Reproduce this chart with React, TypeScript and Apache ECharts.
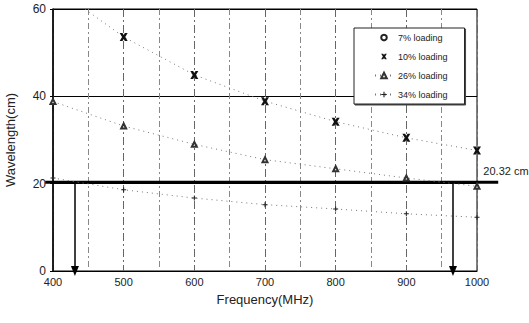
import React, { useEffect, useRef } from "react";
import * as echarts from "echarts";

const freqs = [400, 500, 600, 700, 800, 900, 1000];
const load7: (number | null)[] = [];
const load10 = [null, 53.6, 44.9, 38.9, 34.2, 30.5, 27.6];
const load10TrendStart = [445, 60];
const load26 = [38.8, 33.2, 29.0, 25.5, 23.4, 21.3, 19.4];
const load34 = [21.3, 18.6, 16.7, 15.2, 14.2, 13.1, 12.3];
const cutoffWavelength = 20.32;
const cutoffFreqs = [431, 966];
const cutoffLineSpan = [389, 1030];
const cutoffLabel = "20.32 cm";
const legendNames = ["7% loading", "10% loading", "26% loading", "34% loading"];

const FONT = "'Liberation Sans', Arial, sans-serif";
const X_PATH =
  "path://M0,0 L3.5,0 L5,2.5 L6.5,0 L10,0 L7,5 L10,10 L6.5,10 L5,7.5 L3.5,10 L0,10 L3,5 Z";
const PLUS_PATH =
  "path://M4,0 L6,0 L6,4 L10,4 L10,6 L6,6 L6,10 L4,10 L4,6 L0,6 L0,4 L4,4 Z";

export default function App() {
  const ref = useRef<HTMLDivElement>(null);
  useEffect(() => {
    if (!ref.current) return;
    const chart = echarts.init(ref.current, undefined, { renderer: "svg" });
    const dotted = { color: "#777", width: 1, type: [1, 4] as number[] };
    const d10: any[] = [{ value: load10TrendStart, symbol: "none" }];
    freqs.forEach((f, i) => {
      if (load10[i] != null) d10.push([f, load10[i]]);
    });
    chart.setOption({
      animation: false,
      textStyle: { fontFamily: FONT },
      grid: {
        left: 53,
        right: 52,
        top: 9,
        bottom: 52,
        containLabel: false,
        outerBoundsMode: "none",
        show: true,
        borderColor: "#000",
        borderWidth: 1,
        backgroundColor: "transparent",
      },
      legend: {
        orient: "vertical",
        left: 354,
        top: 28,
        padding: [4, 17, 4, 20],
        itemWidth: 18,
        itemHeight: 7,
        itemGap: 8,
        backgroundColor: "#fff",
        borderColor: "#222",
        borderWidth: 1,
        shadowColor: "#444",
        shadowOffsetX: 1,
        shadowOffsetY: 1,
        shadowBlur: 0,
        textStyle: { fontFamily: FONT, fontSize: 9, color: "#222", lineHeight: 11 },
        data: [
          { name: legendNames[0], lineStyle: { opacity: 0 } },
          { name: legendNames[1], lineStyle: { opacity: 0 } },
          { name: legendNames[2] },
          { name: legendNames[3] },
        ],
      },
      xAxis: {
        type: "value",
        min: 400,
        max: 1000,
        interval: 100,
        name: "Frequency(MHz)",
        nameLocation: "middle",
        nameGap: 22,
        nameTextStyle: { fontFamily: FONT, fontSize: 13, color: "#222" },
        axisLine: { show: true, lineStyle: { color: "#000", width: 1 } },
        axisTick: { show: false },
        axisLabel: {
          fontFamily: FONT,
          fontSize: 11,
          color: "#222",
          margin: 5,
          formatter: (v: number) => String(v),
        },
        splitLine: {
          show: true,
          lineStyle: { color: "#666", width: 1, type: [8, 3, 2, 3] },
        },
        minorTick: { show: false, splitNumber: 2 },
        minorSplitLine: {
          show: true,
          lineStyle: { color: "#888", width: 1, type: [6, 3, 2, 3] },
        },
      },
      yAxis: {
        type: "value",
        min: 0,
        max: 60,
        interval: 20,
        name: "Wavelength(cm)",
        nameLocation: "middle",
        nameGap: 36,
        nameTextStyle: { fontFamily: FONT, fontSize: 13, color: "#222" },
        axisLine: { show: true, lineStyle: { color: "#000", width: 1.5 } },
        axisTick: { show: true, length: 3, lineStyle: { color: "#000" } },
        axisLabel: { fontFamily: FONT, fontSize: 12, color: "#222", margin: 7 },
        splitLine: { show: true, lineStyle: { color: "#000", width: 1 } },
      },
      series: [
        {
          name: legendNames[0],
          type: "line",
          data: load7,
          symbol: "emptyCircle",
          symbolSize: 5,
          itemStyle: { color: "#222", borderWidth: 1 },
          lineStyle: { ...dotted },
        },
        {
          name: legendNames[1],
          type: "line",
          data: d10,
          symbol: X_PATH,
          symbolSize: 8,
          itemStyle: { color: "#111" },
          lineStyle: { ...dotted },
          z: 4,
        },
        {
          name: legendNames[2],
          type: "line",
          data: freqs.map((f, i) => [f, load26[i]]),
          symbol: "emptyTriangle",
          symbolSize: 5,
          itemStyle: { color: "#333", borderWidth: 1 },
          lineStyle: { ...dotted },
          z: 4,
          markLine: {
            silent: true,
            symbol: ["none", "triangle"],
            symbolSize: [8, 10],
            label: { show: false },
            lineStyle: { color: "#000", width: 1.5, type: "solid" },
            data: cutoffFreqs.map((f) => [
              { coord: [f, cutoffWavelength] },
              { coord: [f, 0] },
            ]),
          },
        },
        {
          name: legendNames[3],
          type: "line",
          data: freqs.map((f, i) => [f, load34[i]]),
          symbol: PLUS_PATH,
          symbolSize: 5,
          itemStyle: { color: "#222" },
          lineStyle: { ...dotted },
          z: 4,
        },
      ],
    });
    const a = chart.convertToPixel({ gridIndex: 0 }, [cutoffLineSpan[0], cutoffWavelength]) as number[];
    const b = chart.convertToPixel({ gridIndex: 0 }, [cutoffLineSpan[1], cutoffWavelength]) as number[];
    const t = chart.convertToPixel({ gridIndex: 0 }, [1009, cutoffWavelength]) as number[];
    chart.setOption({
      graphic: [
        {
          type: "line",
          z: 3,
          shape: { x1: a[0], y1: a[1], x2: b[0], y2: b[1] },
          style: { stroke: "#000", lineWidth: 3 },
        },
        {
          type: "text",
          z: 3,
          x: t[0],
          y: t[1] - 11,
          style: {
            text: cutoffLabel,
            font: `11px ${FONT}`,
            fill: "#222",
            verticalAlign: "middle",
          },
        },
      ],
    });
    return () => chart.dispose();
  }, []);
  return (
    <div
      ref={ref}
      style={{ position: "fixed", left: 0, top: 0, width: 529, height: 323, background: "#fff" }}
    />
  );
}
